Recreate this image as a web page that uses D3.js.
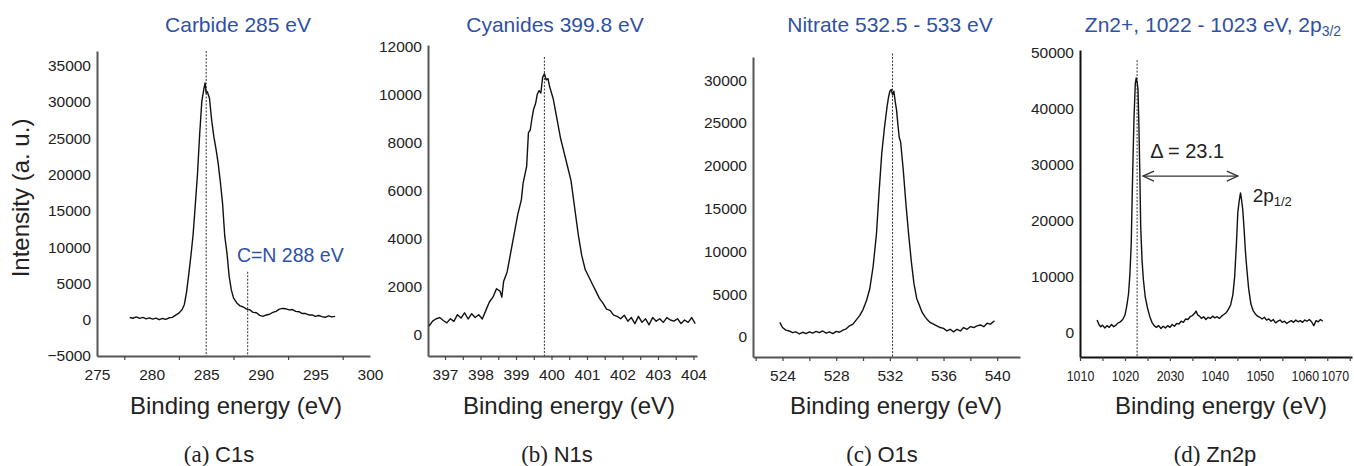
<!DOCTYPE html>
<html>
<head>
<meta charset="utf-8">
<script src="https://cdn.jsdelivr.net/npm/d3@7"></script>
<style>
  body { margin: 0; background: #fff; }
  svg { display: block; font-family: "Liberation Sans", Arial, sans-serif; }
  .tick text { fill: #222; }
</style>
</head>
<body>
<svg id="chart" width="1354" height="466"></svg>
<script>
// spectra: [binding energy (eV), intensity (a.u.)]
const c1s = [
  [278.0, 300], [278.3, 200], [278.6, 380], [278.9, 180], [279.2, 320], [279.5, 120], [279.8, 260],
  [280.1, 80], [280.4, 220], [280.7, 0], [281.0, 170], [281.3, 40], [281.6, 260], [281.9, 320],
  [282.2, 620], [282.5, 900], [282.8, 1400], [283.0, 2100], [283.2, 3800], [283.4, 6200], [283.6, 8800],
  [283.8, 11700], [284.0, 15800], [284.2, 20000], [284.4, 25500], [284.6, 30100], [284.8, 31900],
  [284.9, 32600], [285.0, 31200], [285.1, 31400], [285.3, 30500], [285.5, 27500], [285.7, 25200],
  [285.9, 23500], [286.1, 21500], [286.3, 18900], [286.5, 16000], [286.7, 11500], [286.9, 9200],
  [287.1, 6000], [287.3, 4100], [287.5, 3000], [287.8, 2300], [288.1, 1900], [288.4, 1750],
  [288.7, 1450], [289.0, 1350], [289.3, 1000], [289.6, 950], [289.9, 600], [290.2, 450], [290.5, 650],
  [290.8, 750], [291.1, 1000], [291.4, 1150], [291.7, 1450], [292.0, 1550], [292.3, 1500], [292.6, 1350],
  [292.9, 1400], [293.2, 1150], [293.5, 1100], [293.8, 850], [294.1, 850], [294.4, 650], [294.7, 650],
  [295.0, 450], [295.3, 580], [295.6, 420], [295.9, 330], [296.2, 520], [296.5, 380], [296.8, 460]
];

const n1s = [
  [396.55, 350], [396.65, 550], [396.75, 650], [396.85, 700], [396.95, 580], [397.05, 480],
  [397.15, 650], [397.25, 540], [397.35, 820], [397.45, 680], [397.55, 900], [397.65, 640],
  [397.75, 860], [397.85, 700], [397.95, 820], [398.05, 640], [398.15, 1000], [398.25, 1350],
  [398.35, 1550], [398.45, 1900], [398.55, 1800], [398.6, 1550], [398.65, 2200], [398.75, 2600],
  [398.85, 3400], [398.95, 4200], [399.05, 5000], [399.15, 5600], [399.2, 6300], [399.3, 7000],
  [399.35, 8400], [399.4, 8500], [399.45, 9000], [399.5, 9400], [399.55, 9600], [399.6, 10000],
  [399.65, 10150], [399.7, 10050], [399.75, 10700], [399.8, 10850], [399.85, 10600], [399.9, 10650],
  [399.95, 10300], [400.05, 9800], [400.15, 9000], [400.25, 8200], [400.35, 7600], [400.45, 7000],
  [400.55, 6400], [400.65, 5300], [400.75, 4200], [400.85, 3300], [400.95, 2700], [401.05, 2400],
  [401.15, 2100], [401.25, 1800], [401.35, 1500], [401.45, 1300], [401.55, 1050], [401.65, 1000],
  [401.75, 800], [401.85, 750], [401.95, 650], [402.05, 800], [402.15, 550], [402.25, 700],
  [402.35, 450], [402.45, 750], [402.55, 500], [402.65, 650], [402.75, 400], [402.85, 700],
  [402.95, 550], [403.05, 650], [403.15, 500], [403.25, 700], [403.35, 600], [403.45, 550],
  [403.55, 650], [403.65, 450], [403.75, 600], [403.85, 500], [403.95, 700], [404.05, 450]
];

const o1s = [
  [523.8, 1700], [524.0, 1100], [524.25, 800], [524.5, 700], [524.75, 500], [525.0, 600],
  [525.25, 350], [525.5, 550], [525.75, 400], [526.0, 600], [526.25, 450], [526.5, 650],
  [526.75, 500], [527.0, 700], [527.25, 450], [527.5, 600], [527.75, 400], [528.0, 650],
  [528.25, 550], [528.5, 800], [528.75, 950], [529.0, 1300], [529.25, 1500], [529.5, 2000],
  [529.75, 2500], [530.0, 3200], [530.25, 4200], [530.5, 5600], [530.75, 8200], [531.0, 12000],
  [531.2, 17000], [531.4, 21500], [531.6, 24500], [531.8, 27000], [531.9, 28000], [532.0, 28700],
  [532.1, 28900], [532.2, 28300], [532.3, 28700], [532.4, 27500], [532.5, 26500], [532.6, 24800],
  [532.7, 23300], [532.8, 22800], [533.0, 19500], [533.2, 15500], [533.4, 12000], [533.6, 8800],
  [533.8, 6200], [534.0, 4500], [534.2, 3700], [534.4, 2900], [534.6, 2400], [534.8, 2000],
  [535.0, 1700], [535.25, 1500], [535.5, 1300], [535.75, 1100], [536.0, 1000], [536.25, 700],
  [536.5, 900], [536.75, 600], [537.0, 900], [537.25, 700], [537.5, 1100], [537.75, 900],
  [538.0, 1200], [538.25, 1100], [538.5, 1300], [538.75, 1400], [539.0, 1200], [539.25, 1600],
  [539.5, 1500], [539.8, 1900]
];

const zn2p = [
  [1013.8, 2300], [1014.2, 1500], [1014.6, 1100], [1015, 1400], [1015.5, 900], [1016, 1300],
  [1016.5, 1000], [1017, 1500], [1017.5, 1100], [1018, 1400], [1018.5, 1800], [1019, 2000],
  [1019.5, 2400], [1020, 3200], [1020.4, 4800], [1020.8, 7000], [1021.1, 10500], [1021.4, 16000],
  [1021.7, 28000], [1022.0, 38000], [1022.3, 44500], [1022.5, 45500], [1022.7, 44800], [1022.9, 43500],
  [1023.1, 37000], [1023.3, 29000], [1023.5, 19000], [1023.8, 13000], [1024.1, 9500], [1024.5, 6500],
  [1025, 4500], [1025.5, 3000], [1026, 1900], [1026.5, 1300], [1027, 1000], [1027.5, 1300],
  [1028, 800], [1028.5, 1200], [1029, 900], [1029.5, 1300], [1030, 1000], [1030.5, 1500],
  [1031, 1200], [1031.5, 1700], [1032, 1600], [1032.5, 2100], [1033, 1900], [1033.5, 2500],
  [1034, 2400], [1034.5, 2900], [1035, 3100], [1035.5, 3500], [1035.8, 3900], [1036.2, 3200],
  [1036.6, 3000], [1037, 2600], [1037.5, 2900], [1038, 2400], [1038.5, 2800], [1039, 2600],
  [1039.5, 3000], [1040, 2700], [1040.5, 2900], [1041, 2600], [1041.5, 3000], [1042, 3300],
  [1042.5, 3600], [1043, 4200], [1043.5, 5000], [1044, 6800], [1044.4, 10000], [1044.8, 16000],
  [1045.1, 21500], [1045.4, 23500], [1045.7, 25000], [1045.9, 24000], [1046.2, 22000], [1046.5, 18500],
  [1046.8, 14500], [1047.1, 11500], [1047.5, 8000], [1048, 5200], [1048.5, 4000], [1049, 3400],
  [1049.5, 3000], [1050, 2800], [1050.5, 2500], [1051, 2800], [1051.5, 2300], [1052, 2500],
  [1052.5, 2100], [1053, 2400], [1053.5, 1800], [1054, 2100], [1054.5, 2300], [1055, 1900],
  [1055.5, 2100], [1056, 1700], [1056.5, 2000], [1057, 2200], [1057.5, 1900], [1058, 2300],
  [1058.5, 2000], [1059, 2200], [1059.5, 1900], [1060, 2300], [1060.5, 2100], [1061, 2400],
  [1061.5, 2000], [1062, 1300], [1062.5, 2200], [1063, 2000], [1063.5, 2400], [1064, 2100]
];

// tick values and labels
const c1sXLabels = [275, 280, 285, 290, 295, 300];
const c1sXTicks = [277.5, 282.5, 287.5, 292.5, 297.5];
const c1sYTicks = [-5000, 0, 5000, 10000, 15000, 20000, 25000, 30000, 35000];
const n1sXLabels = [397, 398, 399, 400, 401, 402, 403, 404];
const n1sXTicks = d3.range(397, 404.01, 0.5);
const n1sYTicks = [0, 2000, 4000, 6000, 8000, 10000, 12000];
const o1sXLabels = [524, 528, 532, 536, 540];
const o1sXTicks = d3.range(522, 541, 2);
const o1sYTicks = [0, 5000, 10000, 15000, 20000, 25000, 30000];
const znXLabels = [1010, 1020, 1030, 1040, 1050, 1060, 1070];
const znXLabelText = ['1010', '1020', '2030', '1040', '1050', '1060', '1070'];
const znXTicks = d3.range(1010, 1071, 5);
const znYTicks = [0, 10000, 20000, 30000, 40000, 50000];

// peak markers: [energy, top of dotted line]
const c1sMarks = [[285, 37000], [288.8, 6600]];
const n1sMarks = [[399.8, 11550]];
const o1sMarks = [[532.2, 33100]];
const znMarks = [[1022.7, 48700]];

const titles = ['Carbide 285 eV', 'Cyanides 399.8 eV', 'Nitrate 532.5 - 533 eV', 'Zn2+, 1022 - 1023 eV, 2p'];
const captions = [['(a)', 'C1s'], ['(b)', 'N1s'], ['(c)', 'O1s'], ['(d)', 'Zn2p']];

const svg = d3.select('#chart');
const blue = '#2f51a3';

const panels = [
  { data: c1s, xd: [275, 300], xr: [97, 370], yd: [-5000, 37000], yr: [356, 51], bottom: 356,
    xLabels: c1sXLabels, xTicks: c1sXTicks, yTicks: c1sYTicks, marks: c1sMarks, axisColor: '#555',
    titleX: 238, labelX: 236, captionX: 219 },
  { data: n1s, xd: [396.52, 404.1], xr: [428, 697], yd: [-900, 12050], yr: [356, 45], bottom: 356,
    xLabels: n1sXLabels, xTicks: n1sXTicks, yTicks: n1sYTicks, marks: n1sMarks, axisColor: '#555',
    titleX: 555, labelX: 569, captionX: 557 },
  { data: o1s, xd: [521.8, 541.7], xr: [753, 1020], yd: [-2340, 32700], yr: [357, 57], bottom: 357,
    xLabels: o1sXLabels, xTicks: o1sXTicks, yTicks: o1sYTicks, marks: o1sMarks, axisColor: '#555',
    titleX: 890, labelX: 896, captionX: 882 },
  { data: zn2p, xd: [1010, 1070.5], xr: [1080, 1352], yd: [-4290, 50500], yr: [357, 50], bottom: 357,
    xLabels: znXLabels, xTicks: znXTicks, yTicks: znYTicks, marks: znMarks, axisColor: '#111',
    xLabelText: znXLabelText, titleX: 1213, labelX: 1221, captionX: 1215 }
];

panels.forEach((p, i) => {
  const x = d3.scaleLinear().domain(p.xd).range(p.xr);
  const y = d3.scaleLinear().domain(p.yd).range(p.yr);
  const g = svg.append('g');

  // y axis
  const yAxis = g.append('g')
    .attr('transform', `translate(${p.xr[0]},0)`)
    .call(d3.axisLeft(y).tickValues(p.yTicks).tickSize(0).tickPadding(6).tickFormat(d3.format('d')));
  yAxis.select('.domain').attr('stroke', p.axisColor).attr('stroke-width', 2);
  yAxis.selectAll('text').style('font-size', '15.5px');

  // x axis: small tick marks, then labels
  const xTickAxis = g.append('g')
    .attr('transform', `translate(0,${p.bottom})`)
    .call(d3.axisBottom(x).tickValues(p.xTicks).tickSizeInner(4).tickSizeOuter(0).tickFormat(''));
  xTickAxis.select('.domain').attr('stroke', p.axisColor).attr('stroke-width', 2);
  xTickAxis.selectAll('.tick line').attr('stroke', '#444').attr('stroke-width', 1.2);

  const fmt = p.xLabelText ? (d) => p.xLabelText[p.xLabels.indexOf(d)] : d3.format('d');
  const xLabelAxis = g.append('g')
    .attr('transform', `translate(0,${p.bottom})`)
    .call(d3.axisBottom(x).tickValues(p.xLabels).tickSize(0).tickPadding(13).tickFormat(fmt));
  xLabelAxis.select('.domain').remove();
  xLabelAxis.selectAll('text').style('font-size', '15.5px');
  if (i === 3) {
    // the Zn2p labels are set narrower in the original
    xLabelAxis.selectAll('text').attr('transform', 'scale(0.8,1)');
    xLabelAxis.selectAll('text').filter((d) => d === 1070).attr('x', -15 / 0.8);
  }

  // dotted peak markers
  g.selectAll('line.mark')
    .data(p.marks)
    .join('line')
    .attr('class', 'mark')
    .attr('x1', (d) => x(d[0]))
    .attr('x2', (d) => x(d[0]))
    .attr('y1', (d) => y(d[1]))
    .attr('y2', p.bottom)
    .attr('stroke', '#333')
    .attr('stroke-width', 1)
    .attr('stroke-dasharray', '2,1.5');

  // spectrum
  const line = d3.line().x((d) => x(d[0])).y((d) => y(d[1]));
  g.append('path')
    .datum(p.data)
    .attr('d', line)
    .attr('fill', 'none')
    .attr('stroke', '#111')
    .attr('stroke-width', 1.4)
    .attr('stroke-linejoin', 'round');

  // title
  const title = g.append('text')
    .attr('x', p.titleX)
    .attr('y', 32)
    .attr('text-anchor', 'middle')
    .attr('fill', blue)
    .style('font-size', '21px')
    .text(titles[i]);
  if (i === 3) {
    title.append('tspan').attr('dy', 4).style('font-size', '14px').text('3/2');
  }

  // x axis title
  g.append('text')
    .attr('x', p.labelX)
    .attr('y', 414)
    .attr('text-anchor', 'middle')
    .attr('fill', '#222')
    .style('font-size', '24px')
    .text('Binding energy (eV)');

  // caption
  const cap = g.append('text')
    .attr('x', p.captionX)
    .attr('y', 462)
    .attr('text-anchor', 'middle')
    .attr('fill', '#222')
    .style('font-size', '23px');
  cap.append('tspan').style('font-family', '"Liberation Serif", "Times New Roman", serif').text(captions[i][0] + ' ');
  cap.append('tspan').style('font-size', '22px').text(captions[i][1]);

  // annotations
  if (i === 0) {
    g.append('text')
      .attr('x', x(292.7))
      .attr('y', y(8000))
      .attr('text-anchor', 'middle')
      .attr('fill', blue)
      .style('font-size', '19.5px')
      .text('C=N 288 eV');
  }
  if (i === 3) {
    const arrowY = y(28000);
    const ax1 = x(1024), ax2 = x(1045.1);
    g.append('line')
      .attr('x1', ax1).attr('x2', ax2)
      .attr('y1', arrowY).attr('y2', arrowY)
      .attr('stroke', '#333').attr('stroke-width', 1.3);
    g.append('path')
      .attr('d', `M${ax1 + 11},${arrowY - 5} L${ax1},${arrowY} L${ax1 + 11},${arrowY + 5} M${ax2 - 11},${arrowY - 5} L${ax2},${arrowY} L${ax2 - 11},${arrowY + 5}`)
      .attr('fill', 'none')
      .attr('stroke', '#333')
      .attr('stroke-width', 1.3);
    g.append('text')
      .attr('x', x(1025.6))
      .attr('y', y(31200))
      .attr('fill', '#222')
      .style('font-size', '20px')
      .text('\u0394 = 23.1');
    const p12 = g.append('text')
      .attr('x', x(1048.4))
      .attr('y', y(23300))
      .attr('fill', '#222')
      .style('font-size', '19px')
      .text('2p');
    p12.append('tspan').attr('dy', 4).style('font-size', '13px').text('1/2');
  }
});

// shared y axis title
svg.append('text')
  .attr('transform', 'translate(29,198) rotate(-90)')
  .attr('text-anchor', 'middle')
  .attr('fill', '#222')
  .style('font-size', '24px')
  .text('Intensity (a. u.)');
</script>
</body>
</html>
